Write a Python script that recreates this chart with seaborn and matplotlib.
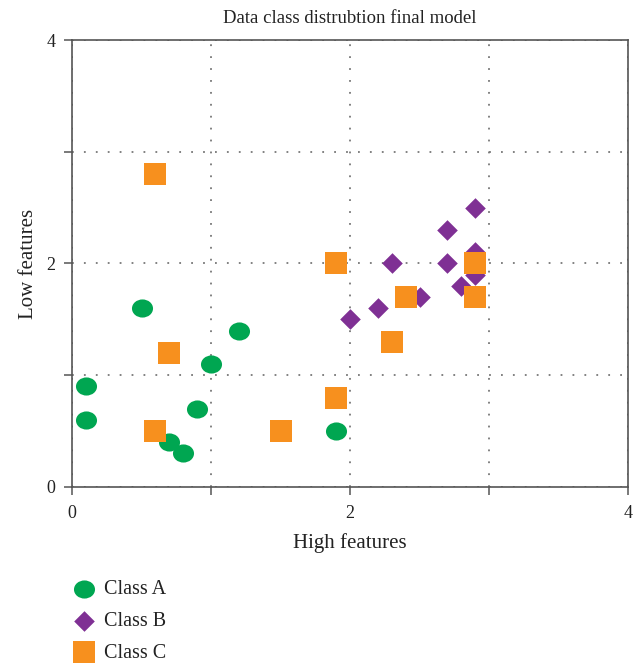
import numpy as np
import pandas as pd
import matplotlib
matplotlib.use("Agg")
import matplotlib.pyplot as plt
from matplotlib.path import Path
import seaborn as sns

# values
class_a_x = [0.1, 0.1, 0.5, 1.2, 1.0, 0.9, 0.7, 0.8, 1.9]
class_a_y = [0.9, 0.6, 1.6, 1.4, 1.1, 0.7, 0.4, 0.3, 0.5]

class_b_x = [2.0, 2.2, 2.3, 2.5, 2.7, 2.7, 2.9, 2.9, 2.9, 2.8]
class_b_y = [1.5, 1.6, 2.0, 1.7, 2.3, 2.0, 2.5, 2.1, 1.9, 1.8]

class_c_x = [0.6, 0.7, 0.6, 1.5, 1.9, 1.9, 2.3, 2.4, 2.9, 2.9]
class_c_y = [2.8, 1.2, 0.5, 0.5, 0.8, 2.0, 1.3, 1.7, 2.0, 1.7]

class_names = ["Class A", "Class B", "Class C"]
tick_vals = [0, 1, 2, 3, 4]
tick_labels = ["0", "", "2", "", "4"]

df = pd.concat([
    pd.DataFrame({"x": class_a_x, "y": class_a_y, "cls": "Class A"}),
    pd.DataFrame({"x": class_b_x, "y": class_b_y, "cls": "Class B"}),
    pd.DataFrame({"x": class_c_x, "y": class_c_y, "cls": "Class C"}),
], ignore_index=True)

sns.set_style("white")
plt.rcParams["font.family"] = ["Liberation Serif", "DejaVu Serif"]

# slightly flattened ellipse marker for class A
circ = Path.unit_circle()
ellipse = Path(circ.vertices * np.array([1.0, 0.86]), circ.codes)

palette = {"Class A": "#00a651", "Class B": "#7f3094", "Class C": "#f7901e"}
markers = {"Class A": ellipse, "Class B": "D", "Class C": "s"}
sizes = {"Class A": 230, "Class B": 110, "Class C": 260}

fig = plt.figure(figsize=(6.34, 6.67), dpi=100)
ax = fig.add_axes([0.1136, 0.2699, 0.877, 0.6701])

for name in class_names:
    sub = df[df["cls"] == name]
    sns.scatterplot(data=sub, x="x", y="y", color=palette[name],
                    marker=markers[name], s=sizes[name], linewidth=0,
                    ax=ax, label=name, zorder=3)

ax.set_xlim(0, 4)
ax.set_ylim(0, 4)
ax.set_xticks(tick_vals)
ax.set_xticklabels(tick_labels)
ax.set_yticks(tick_vals)
ax.set_yticklabels(tick_labels)
ax.grid(True, linestyle=(0, (1, 5.6)), color="#777777", linewidth=1.3)
ax.tick_params(direction="out", length=6, width=1.1, colors="#555555",
               labelcolor="#222222", labelsize=13, pad=6, left=True, bottom=True)
ax.tick_params(axis="x", pad=7)
for sp in ax.spines.values():
    sp.set_color("#555555")
    sp.set_linewidth(1.2)

ax.set_title("Data class distrubtion final model", fontsize=13.5, color="#222222", pad=12)
ax.set_xlabel("High features", fontsize=15, color="#222222", labelpad=8)
ax.set_ylabel("Low features", fontsize=15, color="#222222", labelpad=6)

ax.legend(loc="upper left", bbox_to_anchor=(0.101, 0.142), bbox_transform=fig.transFigure,
          frameon=False, fontsize=14.5, labelspacing=0.62, handletextpad=0.4,
          handlelength=1.2, borderaxespad=0, labelcolor="#222222")

fig.savefig("out.png", dpi=100)
